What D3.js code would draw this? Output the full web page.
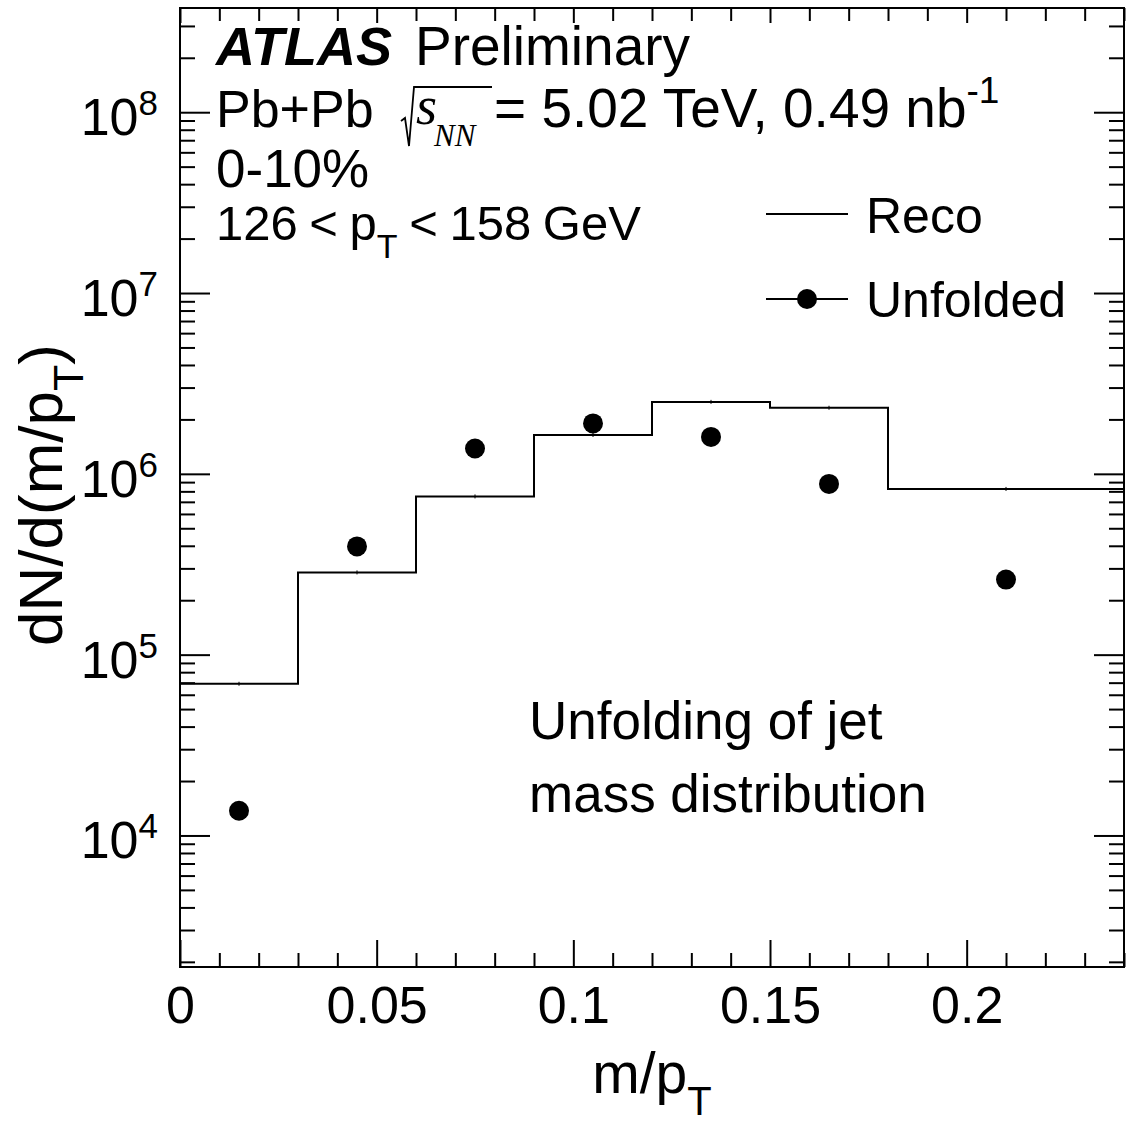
<!DOCTYPE html>
<html>
<head>
<meta charset="utf-8">
<script src="https://cdn.jsdelivr.net/npm/d3@7"></script>
<style>
  body { margin: 0; background: #fff; }
  text { font-family: "Liberation Sans", Arial, Helvetica, sans-serif; fill: #000; }
</style>
</head>
<body>
<div id="chart"></div>
<script>
// data
var binEdges = [0, 0.03, 0.06, 0.09, 0.12, 0.15, 0.18, 0.24]
var recoValues = [6.9e4, 2.85e5, 7.5e5, 1.64e6, 2.5e6, 2.32e6, 8.25e5]
var unfoldedX = [0.015, 0.045, 0.075, 0.105, 0.135, 0.165, 0.21]
var unfoldedValues = [1.37e4, 3.97e5, 1.38e6, 1.9e6, 1.6e6, 8.8e5, 2.6e5]
var xTickValues = [0, 0.05, 0.1, 0.15, 0.2]
var xTickLabels = ['0', '0.05', '0.1', '0.15', '0.2']
var yDecades = [4, 5, 6, 7, 8]

var margin = { top: 8, left: 180, right: 4, bottom: 159 }
var width = 1128 - margin.left - margin.right
var height = 1126 - margin.top - margin.bottom

var svg = d3
  .select('#chart')
  .append('svg')
  .attr('width', 1128)
  .attr('height', 1126)

var g = svg
  .append('g')
  .attr('transform', `translate(${margin.left},${margin.top})`)

var xPositionScale = d3.scaleLinear().domain([0, 0.24]).range([0, width])
var yPositionScale = d3.scaleLog().domain([1873, 3.77e8]).range([height, 0])

// minor tick values
var xMinor = d3.range(0, 25).map(i => i / 100).filter(v => xTickValues.indexOf(v) < 0 && v <= 0.24)
var yMajor = yDecades.map(n => Math.pow(10, n))
var yMinor = []
for (var n = 3; n <= 8; n++) {
  for (var k = 2; k <= 9; k++) {
    var v = k * Math.pow(10, n)
    if (v >= 1873 && v <= 3.77e8) yMinor.push(v)
  }
}

function styleAxis(sel) {
  sel.select('.domain').remove()
  sel.selectAll('.tick line').attr('stroke', '#000').attr('stroke-width', 2)
}

// bottom axis (ticks inside)
g.append('g')
  .attr('transform', `translate(0,${height})`)
  .call(d3.axisBottom(xPositionScale).tickValues(xMinor).tickSize(-14).tickFormat(''))
  .call(styleAxis)
g.append('g')
  .attr('transform', `translate(0,${height})`)
  .call(
    d3
      .axisBottom(xPositionScale)
      .tickValues(xTickValues)
      .tickSize(-27)
      .tickPadding(19)
      .tickFormat((d, i) => xTickLabels[i])
  )
  .call(styleAxis)
  .call(sel =>
    sel.selectAll('.tick text').style('font-size', '52px').attr('font-family', null)
  )

// top axis
g.append('g')
  .call(d3.axisTop(xPositionScale).tickValues(xMinor).tickSize(-13).tickFormat(''))
  .call(styleAxis)
g.append('g')
  .call(d3.axisTop(xPositionScale).tickValues(xTickValues).tickSize(-15).tickFormat(''))
  .call(styleAxis)

// left and right axes
g.append('g')
  .call(d3.axisLeft(yPositionScale).tickValues(yMinor).tickSize(-15).tickFormat(''))
  .call(styleAxis)
g.append('g')
  .call(d3.axisLeft(yPositionScale).tickValues(yMajor).tickSize(-30).tickFormat(''))
  .call(styleAxis)
g.append('g')
  .attr('transform', `translate(${width},0)`)
  .call(d3.axisRight(yPositionScale).tickValues(yMinor).tickSize(-15).tickFormat(''))
  .call(styleAxis)
g.append('g')
  .attr('transform', `translate(${width},0)`)
  .call(d3.axisRight(yPositionScale).tickValues(yMajor).tickSize(-30).tickFormat(''))
  .call(styleAxis)

// y tick labels 10^n
var yLabels = g
  .selectAll('.y-label')
  .data(yDecades)
  .enter()
  .append('text')
  .attr('class', 'y-label')
  .attr('x', -22)
  .attr('y', d => yPositionScale(Math.pow(10, d)) + 23)
  .attr('text-anchor', 'end')
  .style('font-size', '52px')
yLabels.append('tspan').text('10')
yLabels
  .append('tspan')
  .attr('dy', -20)
  .style('font-size', '35px')
  .text(d => d)

// frame
g.append('rect')
  .attr('width', width)
  .attr('height', height)
  .attr('fill', 'none')
  .attr('stroke', '#000')
  .attr('stroke-width', 2)

// Reco histogram
var stepPoints = recoValues.map((v, i) => [binEdges[i], v])
stepPoints.push([binEdges[binEdges.length - 1], recoValues[recoValues.length - 1]])

var line_reco = d3
  .line()
  .x(d => xPositionScale(d[0]))
  .y(d => yPositionScale(d[1]))
  .curve(d3.curveStepAfter)

g.append('path')
  .datum(stepPoints)
  .attr('d', line_reco)
  .attr('fill', 'none')
  .attr('stroke', '#000')
  .attr('stroke-width', 2)

// tiny marks at bin centres
g.selectAll('.bin-mark')
  .data(recoValues)
  .enter()
  .append('line')
  .attr('x1', (d, i) => xPositionScale((binEdges[i] + binEdges[i + 1]) / 2))
  .attr('x2', (d, i) => xPositionScale((binEdges[i] + binEdges[i + 1]) / 2))
  .attr('y1', d => yPositionScale(d) - 2)
  .attr('y2', d => yPositionScale(d) + 2)
  .attr('stroke', '#000')
  .attr('stroke-width', 1)

// Unfolded points
g.selectAll('.unfolded')
  .data(unfoldedValues)
  .enter()
  .append('circle')
  .attr('cx', (d, i) => xPositionScale(unfoldedX[i]))
  .attr('cy', d => yPositionScale(d))
  .attr('r', 10)
  .attr('fill', '#000')

// axis titles
var xTitle = svg
  .append('text')
  .attr('x', 652)
  .attr('y', 1093)
  .attr('text-anchor', 'middle')
  .style('font-size', '57px')
xTitle.append('tspan').text('m/p')
xTitle.append('tspan').attr('dy', 22).style('font-size', '40px').text('T')

var yTitle = svg
  .append('text')
  .attr('transform', 'translate(62,495) rotate(-90)')
  .attr('text-anchor', 'middle')
  .style('font-size', '62px')
yTitle.append('tspan').text('dN/d(m/p')
yTitle.append('tspan').attr('dy', 21).style('font-size', '43px').text('T')
yTitle.append('tspan').attr('dy', -21).text(')')

// labels
svg
  .append('text')
  .attr('x', 216)
  .attr('y', 65)
  .style('font-size', '54px')
  .style('font-weight', 'bold')
  .style('font-style', 'italic')
  .text('ATLAS')
svg
  .append('text')
  .attr('x', 415)
  .attr('y', 65)
  .style('font-size', '55px')
  .text('Preliminary')

svg
  .append('text')
  .attr('x', 216)
  .attr('y', 127)
  .style('font-size', '52px')
  .text('Pb+Pb')
svg
  .append('path')
  .attr('d', 'M401,121 L405,118 L409,146 L414,87 L492,87')
  .attr('fill', 'none')
  .attr('stroke', '#000')
  .attr('stroke-width', 1.8)
svg
  .append('text')
  .attr('x', 416)
  .attr('y', 124)
  .style('font-family', '"Liberation Serif", "Times New Roman", serif')
  .style('font-style', 'italic')
  .style('font-size', '54px')
  .text('s')
svg
  .append('text')
  .attr('x', 434)
  .attr('y', 146)
  .style('font-family', '"Liberation Serif", "Times New Roman", serif')
  .style('font-style', 'italic')
  .style('font-size', '31px')
  .text('NN')
var energy = svg
  .append('text')
  .attr('x', 494)
  .attr('y', 127)
  .style('font-size', '55px')
energy.append('tspan').text('= 5.02 TeV, 0.49 nb')
energy.append('tspan').attr('dy', -24).style('font-size', '37px').text('-1')

svg
  .append('text')
  .attr('x', 216)
  .attr('y', 187)
  .style('font-size', '53px')
  .text('0-10%')

var ptText = svg
  .append('text')
  .attr('x', 216)
  .attr('y', 240)
  .style('font-size', '49px')
  .style('word-spacing', '-2px')
ptText.append('tspan').text('126 < p')
ptText.append('tspan').attr('dy', 18).style('font-size', '34px').text('T')
ptText.append('tspan').attr('dy', -18).text(' < 158 GeV')

// legend
svg
  .append('line')
  .attr('x1', 766)
  .attr('x2', 848)
  .attr('y1', 214)
  .attr('y2', 214)
  .attr('stroke', '#000')
  .attr('stroke-width', 2)
svg
  .append('text')
  .attr('x', 866)
  .attr('y', 233)
  .style('font-size', '50px')
  .text('Reco')
svg
  .append('line')
  .attr('x1', 766)
  .attr('x2', 848)
  .attr('y1', 299)
  .attr('y2', 299)
  .attr('stroke', '#000')
  .attr('stroke-width', 2)
svg
  .append('circle')
  .attr('cx', 807)
  .attr('cy', 299)
  .attr('r', 10)
  .attr('fill', '#000')
svg
  .append('text')
  .attr('x', 866)
  .attr('y', 317)
  .style('font-size', '50px')
  .text('Unfolded')

svg
  .append('text')
  .attr('x', 529)
  .attr('y', 739)
  .style('font-size', '53px')
  .text('Unfolding of jet')
svg
  .append('text')
  .attr('x', 529)
  .attr('y', 812)
  .style('font-size', '53px')
  .text('mass distribution')
</script>
</body>
</html>
